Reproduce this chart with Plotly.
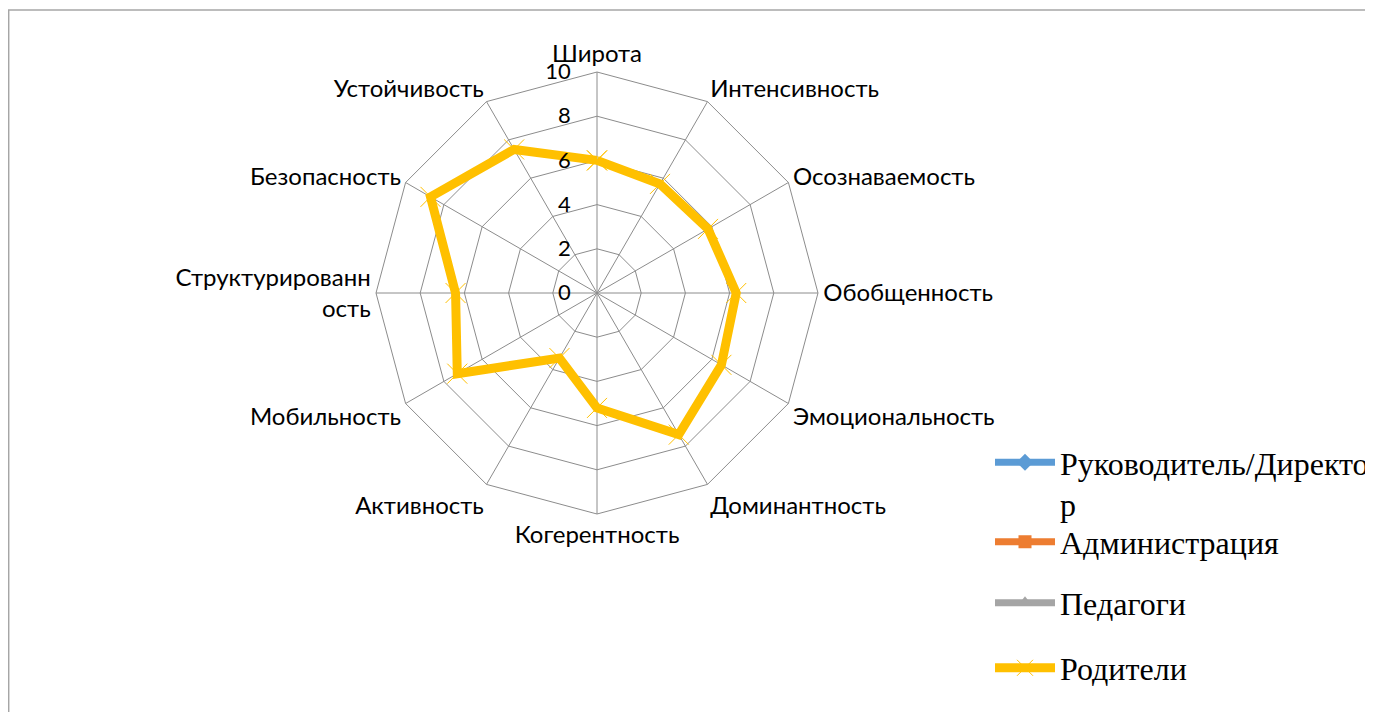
import plotly.graph_objects as go

categories = ["Широта", "Интенсивность", "Осознаваемость", "Обобщенность",
              "Эмоциональность", "Доминантность", "Когерентность", "Активность",
              "Мобильность", "Структурированн<br>ость", "Безопасность", "Устойчивость"]
series_names = ["Руководитель/Директо<br>р", "Администрация", "Педагоги", "Родители"]
rukovoditel = [0] * 12
administraciya = [0] * 12
pedagogi = [0] * 12
roditeli = [6.0, 5.7, 5.8, 6.3, 6.5, 7.4, 5.2, 3.4, 7.3, 6.4, 8.7, 7.5]
radial_ticks = [0, 2, 4, 6, 8, 10]

# page body has an 8px default margin; work in page pixels
OFF = 8
W, H = 1373 - OFF, 712 - OFF
def px(x):
    return (x - OFF) / W
def py(y):
    return (H - (y - OFF)) / H

cx, cy, R = 597, 293, 221

fig = go.Figure()

styles = [
    dict(color="#5B9BD5", symbol="diamond", data=rukovoditel),
    dict(color="#ED7D31", symbol="square", data=administraciya),
    dict(color="#A5A5A5", symbol="triangle-up", data=pedagogi),
]
legend_ids = ["legend", "legend2", "legend3", "legend4"]
theta_closed = categories + [categories[0]]
for i, st in enumerate(styles):
    fig.add_trace(go.Scatterpolar(
        r=st["data"] + [st["data"][0]], theta=theta_closed, name=series_names[i],
        mode="lines+markers",
        line=dict(color=st["color"], width=7),
        marker=dict(symbol=st["symbol"], size=13, color=st["color"]),
        legend=legend_ids[i], showlegend=True))

fig.add_trace(go.Scatterpolar(
    r=roditeli + [roditeli[0]], theta=theta_closed, name=series_names[3],
    mode="lines+markers",
    line=dict(color="#FFC000", width=9),
    marker=dict(symbol="x-thin", size=20, color="#FFC000",
                line=dict(color="#FFC000", width=1)),
    legend="legend4"))

grid = "#8C8C8C"
nb = "\u00a0"
tick_text = [str(v) + nb * 4 for v in radial_ticks]
fig.update_layout(
    width=W, height=H,
    margin=dict(l=0, r=0, t=0, b=0, autoexpand=False),
    paper_bgcolor="white", plot_bgcolor="white",
    font=dict(family="Lato, Liberation Sans, sans-serif", color="black"),
    polar=dict(
        domain=dict(x=[px(cx - R), px(cx + R)], y=[py(cy + R), py(cy - R)]),
        gridshape="linear",
        bgcolor="white",
        angularaxis=dict(direction="clockwise", rotation=90,
                         categoryorder="array", categoryarray=categories,
                         showline=True, linecolor=grid, linewidth=1,
                         gridcolor=grid, gridwidth=1, ticks="",
                         tickfont=dict(size=24, color="black")),
        radialaxis=dict(range=[0, 10], tickvals=radial_ticks, ticktext=tick_text,
                        angle=90, tickangle=90, side="counterclockwise",
                        showline=False, ticks="", gridcolor=grid, gridwidth=1,
                        tickfont=dict(size=22, color="black")),
    ),
    shapes=[dict(type="rect", xref="paper", yref="paper",
                 x0=0.0005, x1=1.02, y0=-0.02, y1=py(10),
                 line=dict(color="#A6A6A6", width=1.5), fillcolor="rgba(0,0,0,0)")],
)

legend_y = [456, 542, 603, 668]
lfont = dict(family="Liberation Serif, Times New Roman, serif", size=32, color="black")
for lid, y in zip(legend_ids, legend_y):
    fig.update_layout({lid: dict(x=px(990), y=py(y), xanchor="left", yanchor="middle",
                                 font=lfont, bgcolor="rgba(0,0,0,0)", itemwidth=60,
                                 borderwidth=0)})
fig.update_layout(legend=dict(y=py(435), yanchor="top", valign="top"))

fig.write_html("out.html")
